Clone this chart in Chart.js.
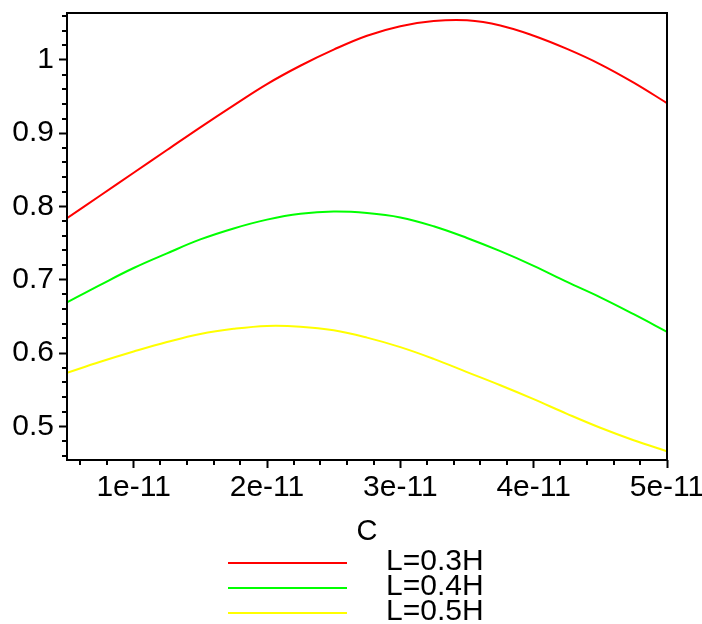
<!DOCTYPE html>
<html>
<head>
<meta charset="utf-8">
<script src="https://cdn.jsdelivr.net/npm/chart.js@4.4.0/dist/chart.umd.min.js"></script>
<style>
  html, body { margin: 0; padding: 0; background: #fff; }
  #wrap { width: 702px; height: 624px; }
</style>
</head>
<body>
<div id="wrap"><canvas id="plot"></canvas></div>
<script>
// capacitance C (farads) where the curves were read
var C = [0.5e-11, 0.75e-11, 1e-11, 1.25e-11, 1.5e-11, 1.75e-11, 2e-11, 2.25e-11, 2.5e-11, 2.75e-11,
         3e-11, 3.25e-11, 3.5e-11, 3.75e-11, 4e-11, 4.25e-11, 4.5e-11, 4.75e-11, 5e-11];

// one curve per inductance
var L03 = [0.784, 0.815, 0.846, 0.877, 0.908, 0.938, 0.967, 0.992, 1.014, 1.033,
           1.046, 1.053, 1.054, 1.047, 1.033, 1.015, 0.994, 0.969, 0.941];
var L04 = [0.669, 0.693, 0.716, 0.736, 0.755, 0.770, 0.782, 0.790, 0.793, 0.791,
           0.785, 0.773, 0.757, 0.739, 0.719, 0.697, 0.676, 0.653, 0.629];
var L05 = [0.573, 0.588, 0.602, 0.615, 0.626, 0.633, 0.637, 0.636, 0.631, 0.621,
           0.608, 0.592, 0.574, 0.556, 0.537, 0.517, 0.498, 0.481, 0.466];

var seriesLabels = ['L=0.3H', 'L=0.4H', 'L=0.5H'];
var seriesColors = ['#ff0000', '#00ff00', '#ffff00'];

// tick values
var xTicks = [1e-11, 2e-11, 3e-11, 4e-11, 5e-11];
var xMinor = [0.6e-11, 0.8e-11, 1.2e-11, 1.4e-11, 1.6e-11, 1.8e-11, 2.2e-11, 2.4e-11, 2.6e-11, 2.8e-11,
              3.2e-11, 3.4e-11, 3.6e-11, 3.8e-11, 4.2e-11, 4.4e-11, 4.6e-11, 4.8e-11];
var yTicks = [0.5, 0.6, 0.7, 0.8, 0.9, 1.0];
var yMinor = [0.46, 0.48, 0.52, 0.54, 0.56, 0.58, 0.62, 0.64, 0.66, 0.68, 0.72, 0.74, 0.76, 0.78,
              0.82, 0.84, 0.86, 0.88, 0.92, 0.94, 0.96, 0.98, 1.02, 1.04, 1.06];

var FONT = '"Liberation Sans", Arial, sans-serif';

function pts(ys) {
  return C.map(function (c, i) { return { x: c, y: ys[i] }; });
}

// box around the plot + short minor ticks
var frameTicks = {
  id: 'frameTicks',
  afterDatasetsDraw: function (chart) {
    var ctx = chart.ctx, a = chart.chartArea;
    var xs = chart.scales.x, ys = chart.scales.y;
    ctx.save();
    ctx.strokeStyle = '#000';
    ctx.lineWidth = 2;
    ctx.strokeRect(a.left, a.top, a.right - a.left, a.bottom - a.top);
    ctx.beginPath();
    xMinor.forEach(function (v) {
      var px = Math.round(xs.getPixelForValue(v));
      ctx.moveTo(px, a.bottom);
      ctx.lineTo(px, a.bottom + 5);
    });
    yMinor.forEach(function (v) {
      var py = Math.round(ys.getPixelForValue(v));
      ctx.moveTo(a.left, py);
      ctx.lineTo(a.left - 5, py);
    });
    ctx.stroke();
    ctx.restore();
  }
};

// stacked legend under the axis title
var stackLegend = {
  id: 'stackLegend',
  afterDraw: function (chart) {
    var ctx = chart.ctx;
    ctx.save();
    ctx.font = '30px ' + FONT;
    ctx.textBaseline = 'middle';
    ctx.textAlign = 'left';
    chart.data.datasets.forEach(function (ds, i) {
      var y = 563 + i * 25;
      ctx.strokeStyle = ds.borderColor;
      ctx.lineWidth = 2;
      ctx.beginPath();
      ctx.moveTo(228, y);
      ctx.lineTo(347, y);
      ctx.stroke();
      ctx.fillStyle = '#000';
      ctx.fillText(ds.label, 386, y - 1);
    });
    ctx.restore();
  }
};

var ctx = document.getElementById('plot').getContext('2d');
var chart = new Chart(ctx, {
  type: 'line',
  data: {
    datasets: [
      { label: seriesLabels[0], data: pts(L03), borderColor: seriesColors[0] },
      { label: seriesLabels[1], data: pts(L04), borderColor: seriesColors[1] },
      { label: seriesLabels[2], data: pts(L05), borderColor: seriesColors[2] }
    ]
  },
  options: {
    responsive: true,
    maintainAspectRatio: false,
    animation: false,
    layout: { padding: { left: 0, right: 35, top: 13, bottom: 0 } },
    elements: {
      point: { radius: 0 },
      line: { borderWidth: 2, tension: 0.4, fill: false }
    },
    plugins: { legend: { display: false }, tooltip: { enabled: false } },
    scales: {
      x: {
        type: 'linear',
        min: 0.5e-11,
        max: 5e-11,
        border: { display: false },
        grid: { drawOnChartArea: false, tickLength: 8, tickWidth: 2, tickColor: '#000' },
        afterBuildTicks: function (s) { s.ticks = xTicks.map(function (v) { return { value: v }; }); },
        afterFit: function (s) { s.height = 164; s.paddingLeft = 0; s.paddingRight = 0; },
        ticks: {
          autoSkip: false,
          maxRotation: 0,
          padding: 2,
          color: '#000',
          font: { family: FONT, size: 30 },
          callback: function (v) { return Math.round(v * 1e11) + 'e-11'; }
        },
        title: {
          display: true,
          text: 'C',
          color: '#000',
          font: { family: FONT, size: 29 },
          padding: { top: 0, bottom: 75 }
        }
      },
      y: {
        min: 0.454,
        max: 1.064,
        border: { display: false },
        grid: { drawOnChartArea: false, tickLength: 8, tickWidth: 2, tickColor: '#000' },
        afterBuildTicks: function (s) { s.ticks = yTicks.map(function (v) { return { value: v }; }); },
        afterFit: function (s) { s.width = 67; s.paddingTop = 0; s.paddingBottom = 0; },
        ticks: {
          padding: 5,
          color: '#000',
          font: { family: FONT, size: 30 },
          callback: function (v) { return String(+v.toFixed(1)); }
        }
      }
    }
  },
  plugins: [frameTicks, stackLegend]
});
</script>
</body>
</html>
